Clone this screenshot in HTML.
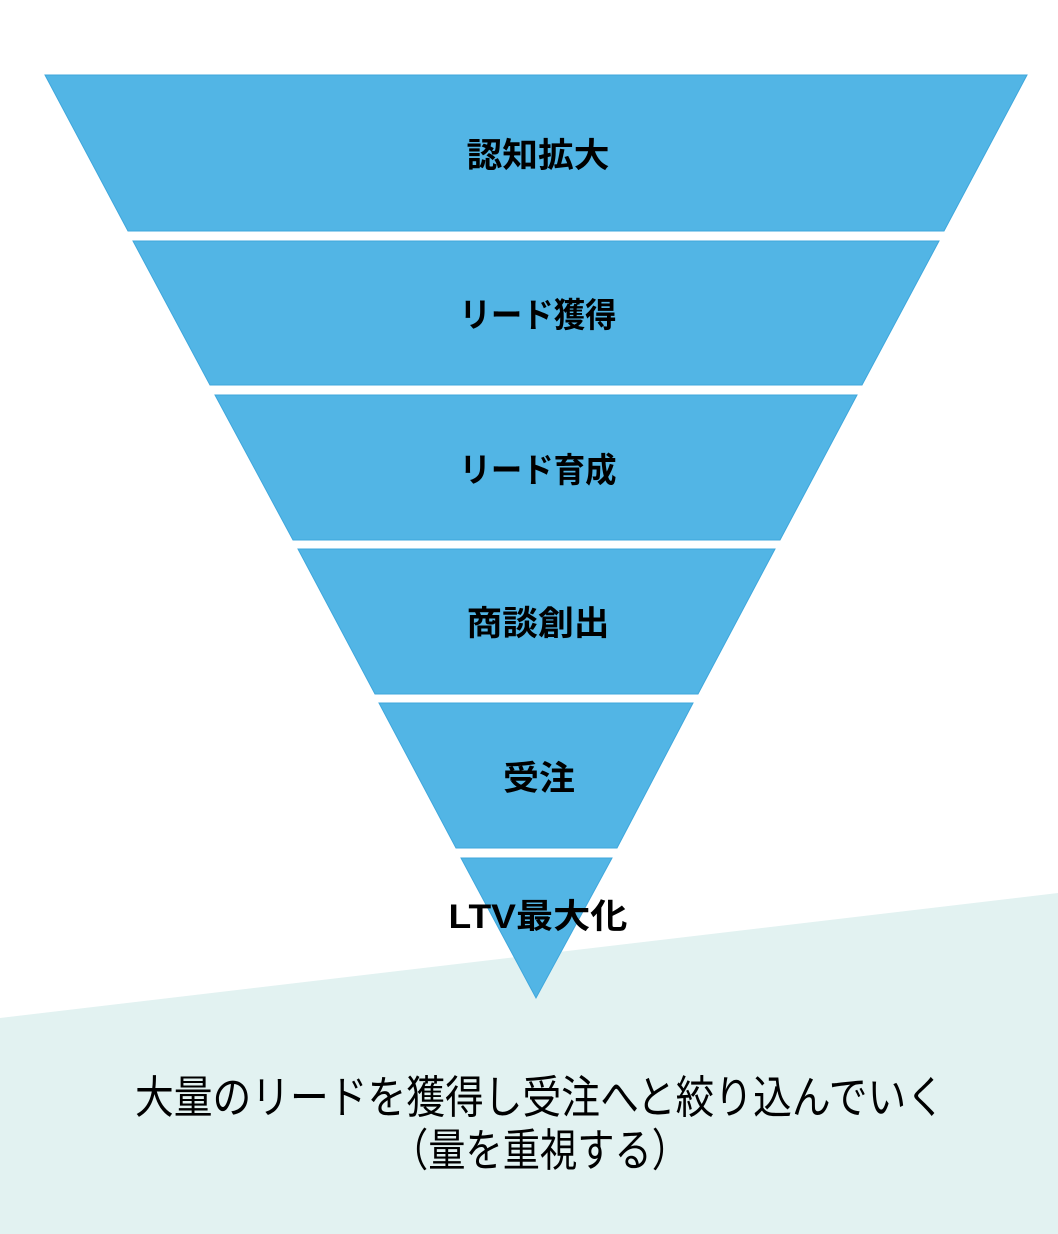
<!DOCTYPE html>
<html><head><meta charset="utf-8"><style>
html,body{margin:0;padding:0;background:#fff;}
svg{display:block;}
text{font-family:"Liberation Sans","Noto Sans CJK JP",sans-serif;}
</style></head><body>
<svg width="1058" height="1234" viewBox="0 0 1058 1234" xmlns="http://www.w3.org/2000/svg">
<rect width="1058" height="1234" fill="#fff"/>
<polygon points="0,1018 1058,893 1058,1234 0,1234" fill="#e2f2f1"/>
<g fill="#52b5e5" stroke="#3fa7dc" stroke-width="1">
<polygon points="45,75 1027,75 944,231 128,231"/>
<polygon points="133,241 939,241 862,385 210,385"/>
<polygon points="215,395 857,395 780,540 293,540"/>
<polygon points="298,549 775,549 698,694 375,694"/>
<polygon points="379,703 693,703 617,848 456,848"/>
<polygon points="461,858 612,858 536,998"/>
</g>
<g font-weight="bold" font-size="34" fill="#000" text-anchor="middle">
<text x="538" y="167" textLength="143" lengthAdjust="spacingAndGlyphs">認知拡大</text>
<text x="538" y="327" textLength="157" lengthAdjust="spacingAndGlyphs">リード獲得</text>
<text x="538" y="482" textLength="157" lengthAdjust="spacingAndGlyphs">リード育成</text>
<text x="538" y="635" textLength="143" lengthAdjust="spacingAndGlyphs">商談創出</text>
<text x="539" y="790" textLength="72" lengthAdjust="spacingAndGlyphs">受注</text>
<text x="538" y="928" textLength="179" lengthAdjust="spacingAndGlyphs">LTV最大化</text>
</g>
<g font-size="45" fill="#000" text-anchor="middle">
<text x="540" y="1113" textLength="810" lengthAdjust="spacingAndGlyphs">大量のリードを獲得し受注へと絞り込んでいく</text>
<text x="540" y="1166" textLength="298" lengthAdjust="spacingAndGlyphs">（量を重視する）</text>
</g>
</svg>
</body></html>
